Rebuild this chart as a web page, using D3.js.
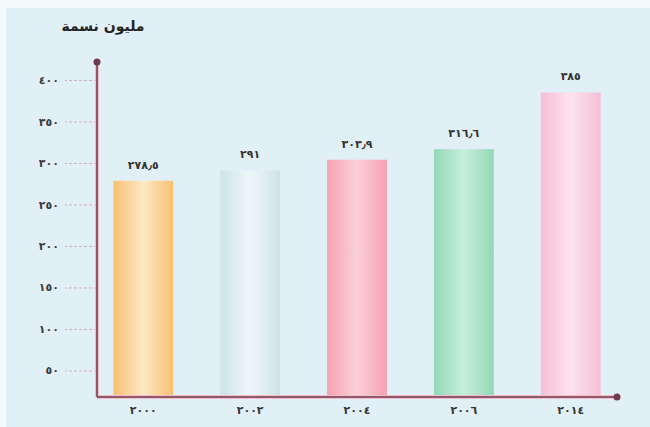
<!DOCTYPE html>
<html>
<head>
<meta charset="utf-8">
<script src="https://cdn.jsdelivr.net/npm/d3@7"></script>
<style>
  body { margin: 0; background: #f4fafc; }
  text { font-family: "DejaVu Sans", sans-serif; }
</style>
</head>
<body>
<div id="chart"></div>
<script>
// data
var years = ["2000", "2002", "2004", "2006", "2014"];
var values = [278.5, 291, 303.9, 316.6, 385];
var yTicks = [50, 100, 150, 200, 250, 300, 350, 400];
var barColors = [
  ["#f8c072", "#fde8c4"],
  ["#cde3e8", "#eef7f8"],
  ["#f4a3b0", "#fbd0d7"],
  ["#93d8b8", "#c7eedb"],
  ["#f6bfd7", "#fce2ee"]
];
var yTitle = "مليون نسمة";

// arabic-indic digits
function ar(v) {
  return String(v).replace(".", "٫").replace(/[0-9]/g, function(c) {
    return "٠١٢٣٤٥٦٧٨٩"[+c];
  });
}

var svgWidth = 650;
var svgHeight = 427;
var margin = { top: 80, right: 33, bottom: 30, left: 97 };
var axisMin = 18; // value where the x axis sits

var svg = d3.select("#chart")
  .append("svg")
  .attr("width", svgWidth)
  .attr("height", svgHeight);

// panel background
svg.append("rect")
  .attr("x", 6).attr("y", 8)
  .attr("width", svgWidth - 6).attr("height", svgHeight - 8)
  .attr("fill", "#e1eff6");

var yScale = d3.scaleLinear()
  .domain([axisMin, 400])
  .range([svgHeight - margin.bottom, margin.top]);

var xScale = d3.scaleBand()
  .domain(years)
  .range([92, 622])
  .paddingInner(0.44)
  .paddingOuter(0.2);

var defs = svg.append("defs");
barColors.forEach(function(c, i) {
  var g = defs.append("linearGradient")
    .attr("id", "grad" + i)
    .attr("x1", "0%").attr("x2", "100%");
  g.append("stop").attr("offset", "0%").attr("stop-color", c[0]);
  g.append("stop").attr("offset", "50%").attr("stop-color", c[1]);
  g.append("stop").attr("offset", "100%").attr("stop-color", c[0]);
});

var base = yScale(axisMin);

// y axis ticks
var leftAxis = d3.axisLeft(yScale)
  .tickValues(yTicks)
  .tickSize(32)
  .tickPadding(6)
  .tickFormat(ar);

var yAxisG = svg.append("g")
  .attr("transform", `translate(${margin.left}, 0)`)
  .call(leftAxis);
yAxisG.select(".domain").remove();
yAxisG.selectAll(".tick line")
  .attr("stroke", "#d2b0ba")
  .attr("stroke-dasharray", "3,2");
yAxisG.selectAll(".tick text")
  .attr("fill", "#3a3a3a")
  .style("font-size", "11px")
  .style("font-weight", "bold");

// bars
svg.selectAll(".bar")
  .data(values)
  .enter()
  .append("rect")
  .attr("class", "bar")
  .attr("x", (d, i) => xScale(years[i]))
  .attr("y", d => yScale(d))
  .attr("width", xScale.bandwidth())
  .attr("height", d => base - yScale(d))
  .attr("fill", (d, i) => `url(#grad${i})`);

// value labels
svg.selectAll(".val")
  .data(values)
  .enter()
  .append("text")
  .attr("class", "val")
  .attr("x", (d, i) => xScale(years[i]) + xScale.bandwidth() / 2)
  .attr("y", d => yScale(d) - 12)
  .attr("text-anchor", "middle")
  .style("font-size", "11px")
  .style("font-weight", "bold")
  .attr("fill", "#333")
  .text(d => ar(d));

// year labels
svg.selectAll(".year")
  .data(years)
  .enter()
  .append("text")
  .attr("class", "year")
  .attr("x", d => xScale(d) + xScale.bandwidth() / 2)
  .attr("y", base + 17)
  .attr("text-anchor", "middle")
  .style("font-size", "11px")
  .style("font-weight", "bold")
  .attr("fill", "#333")
  .text(d => ar(d));

// axis lines
var axisColor = "#6e3b4c";
svg.append("line")
  .attr("x1", margin.left).attr("x2", margin.left)
  .attr("y1", yScale(400) - 18).attr("y2", base)
  .attr("stroke", "#f4bccb").attr("stroke-width", 4);
svg.append("line")
  .attr("x1", margin.left).attr("x2", 617)
  .attr("y1", base).attr("y2", base)
  .attr("stroke", "#f4bccb").attr("stroke-width", 4);
svg.append("line")
  .attr("x1", margin.left).attr("x2", margin.left)
  .attr("y1", yScale(400) - 18).attr("y2", base)
  .attr("stroke", axisColor).attr("stroke-width", 1.5);
svg.append("line")
  .attr("x1", margin.left).attr("x2", 617)
  .attr("y1", base).attr("y2", base)
  .attr("stroke", axisColor).attr("stroke-width", 1.5);
svg.append("circle")
  .attr("cx", margin.left).attr("cy", yScale(400) - 18)
  .attr("r", 3.5).attr("fill", axisColor);
svg.append("circle")
  .attr("cx", 617).attr("cy", base)
  .attr("r", 3.5).attr("fill", axisColor);

// y title
svg.append("text")
  .attr("x", 103)
  .attr("y", 31)
  .attr("text-anchor", "middle")
  .attr("direction", "rtl")
  .style("font-size", "14px")
  .style("font-weight", "bold")
  .attr("fill", "#222")
  .text(yTitle);
</script>
</body>
</html>
